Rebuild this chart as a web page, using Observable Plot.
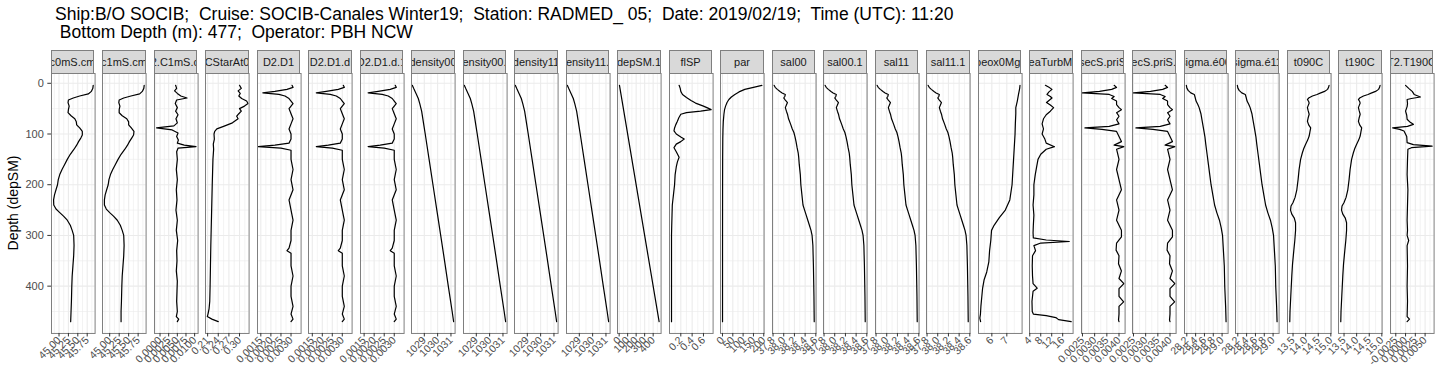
<!DOCTYPE html>
<html><head><meta charset="utf-8">
<script src="https://cdn.jsdelivr.net/npm/d3@7"></script>
<script src="https://cdn.jsdelivr.net/npm/@observablehq/plot@0.6"></script>
<style>
body{margin:0;background:#fff;}
#root{position:relative;width:1440px;height:384px;overflow:hidden;background:#fff;font-family:"Liberation Sans",Arial,Helvetica,sans-serif;}
.title{position:absolute;left:55px;font-size:17.5px;color:#000;white-space:pre;line-height:18px;}
.strip{position:absolute;top:50px;height:24px;box-sizing:border-box;border:1px solid #7f7f7f;background:#d9d9d9;display:flex;justify-content:center;align-items:center;overflow:hidden;font-size:11px;color:#1a1a1a;white-space:nowrap;}
.panel{position:absolute;top:73px;}
.ylab{position:absolute;left:13px;top:203px;font-size:14px;color:#000;white-space:nowrap;transform:translate(-50%,-50%) rotate(-90deg);}
</style></head>
<body><div id="root">
<div class="title" style="top:5px">Ship:B/O SOCIB;  Cruise: SOCIB-Canales Winter19;  Station: RADMED_ 05;  Date: 2019/02/19;  Time (UTC): 11:20</div>
<div class="title" style="top:23px"> Bottom Depth (m): 477;  Operator: PBH NCW</div>
<div class="ylab">Depth (depSM)</div>
</div>
<script>
// ---- data: [depth, value] pairs read from the profiles ----
const c0mS = [[4,45.91],[10,45.90],[16,45.86],[21,45.78],[25,45.55],[29,45.38],[33,45.25],[38,45.24],[45,45.27],[52,45.25],[58,45.24],[64,45.32],[70,45.42],[76,45.46],[82,45.47],[88,45.55],[95,45.62],[102,45.62],[108,45.58],[115,45.52],[122,45.47],[130,45.40],[140,45.30],[150,45.22],[160,45.15],[170,45.08],[180,45.02],[190,44.98],[200,44.96],[210,44.92],[220,44.88],[230,44.855],[240,44.86],[248,44.92],[255,45.02],[262,45.12],[270,45.22],[280,45.30],[290,45.35],[300,45.39],[320,45.40],[340,45.39],[360,45.37],[380,45.35],[400,45.34],[430,45.33],[450,45.32],[470,45.31]];
const c1mS = [[4,45.91],[10,45.90],[16,45.86],[21,45.79],[25,45.56],[29,45.37],[33,45.25],[38,45.24],[45,45.27],[52,45.25],[58,45.25],[64,45.33],[70,45.45],[76,45.50],[82,45.50],[88,45.57],[95,45.64],[102,45.63],[108,45.58],[115,45.52],[122,45.47],[130,45.40],[140,45.30],[150,45.22],[160,45.15],[170,45.08],[180,45.02],[190,44.98],[200,44.96],[210,44.92],[220,44.88],[230,44.86],[240,44.86],[248,44.91],[255,45.00],[262,45.10],[270,45.20],[280,45.28],[290,45.33],[300,45.37],[320,45.38],[340,45.37],[360,45.35],[380,45.33],[400,45.32],[430,45.31],[450,45.30],[470,45.30]];
const c2c1 = [[4,0.0045],[10,0.0048],[15,0.0042],[20,0.0050],[25,0.0060],[29,0.0078],[33,0.0048],[40,0.0044],[48,0.0050],[55,0.0045],[62,0.0052],[70,0.0046],[78,0.0050],[84,0.0040],[88,-0.0010],[92,0.0035],[98,0.0052],[105,0.0048],[112,0.0053],[118,0.0050],[122,0.0070],[125,0.0104],[128,0.0052],[135,0.0048],[150,0.0050],[170,0.0047],[190,0.0050],[210,0.0047],[230,0.0049],[250,0.0046],[270,0.0050],[290,0.0047],[310,0.0051],[330,0.0048],[350,0.0049],[370,0.0047],[390,0.0050],[410,0.0049],[430,0.0048],[450,0.0050],[460,0.0047],[465,0.0054],[470,0.0050]];
const cstar = [[4,0.300],[10,0.305],[15,0.296],[20,0.302],[25,0.298],[30,0.306],[35,0.320],[40,0.324],[45,0.314],[50,0.300],[55,0.305],[60,0.298],[65,0.292],[70,0.296],[78,0.280],[85,0.255],[90,0.236],[95,0.230],[100,0.228],[110,0.229],[120,0.226],[130,0.227],[150,0.225],[175,0.224],[200,0.223],[230,0.222],[260,0.221],[290,0.220],[320,0.219],[360,0.218],[400,0.217],[430,0.216],[445,0.214],[455,0.211],[460,0.209],[465,0.222],[470,0.240]];
const d2d1 = [[4,0.00305],[8,0.0031],[12,0.0028],[16,0.0022],[19,0.0016],[22,0.0024],[25,0.0027],[30,0.0029],[35,0.0030],[40,0.0031],[50,0.0029],[60,0.0030],[70,0.0031],[80,0.0030],[90,0.0029],[100,0.0030],[110,0.0030],[118,0.0029],[122,0.0022],[125,0.00137],[128,0.0025],[132,0.0030],[150,0.0030],[170,0.0031],[190,0.0030],[210,0.0031],[230,0.0029],[250,0.0030],[270,0.0031],[290,0.0030],[310,0.0030],[325,0.0029],[330,0.0028],[335,0.0030],[360,0.0030],[380,0.0031],[400,0.0030],[420,0.0030],[440,0.0031],[455,0.0030],[465,0.0031],[470,0.0030]];
const d2d1d = [[4,0.00305],[8,0.0031],[12,0.0028],[16,0.0022],[19,0.0017],[22,0.0024],[25,0.0027],[30,0.0029],[35,0.0030],[40,0.0031],[50,0.0029],[60,0.0030],[70,0.0031],[80,0.0030],[90,0.0029],[100,0.0030],[110,0.0030],[118,0.0029],[122,0.0023],[125,0.0017],[128,0.0025],[132,0.0030],[150,0.0030],[170,0.0031],[190,0.0030],[210,0.0031],[230,0.0029],[250,0.0030],[270,0.0031],[290,0.0030],[310,0.0030],[325,0.0029],[330,0.0028],[335,0.0030],[360,0.0030],[380,0.0031],[400,0.0030],[420,0.0030],[440,0.0031],[455,0.0030],[465,0.0031],[470,0.0030]];
const density00 = [[4,1028.10],[10,1028.20],[20,1028.38],[30,1028.55],[40,1028.66],[55,1028.80],[80,1028.95],[100,1029.07],[150,1029.36],[200,1029.65],[250,1029.94],[300,1030.23],[350,1030.52],[400,1030.80],[450,1031.09],[470,1031.20]];
const density11 = [[4,1028.10],[10,1028.20],[20,1028.38],[30,1028.55],[40,1028.66],[55,1028.80],[80,1028.95],[100,1029.07],[150,1029.36],[200,1029.65],[250,1029.94],[300,1030.23],[350,1030.52],[400,1030.80],[450,1031.09],[470,1031.20]];
const depSM = [[4,4],[470,470]];
const flSP = [[4,0.17],[10,0.19],[16,0.20],[22,0.23],[28,0.30],[34,0.38],[39,0.46],[45,0.60],[49,0.68],[52,0.735],[55,0.55],[58,0.30],[61,0.20],[68,0.165],[75,0.14],[82,0.11],[88,0.09],[94,0.08],[100,0.12],[106,0.20],[110,0.26],[115,0.20],[120,0.12],[127,0.08],[135,0.12],[146,0.17],[155,0.14],[165,0.12],[180,0.10],[200,0.09],[220,0.07],[240,0.05],[260,0.045],[280,0.04],[300,0.036],[350,0.036],[400,0.036],[470,0.036]];
const par = [[4,191],[8,150],[12,108],[17,80],[22,60],[27,43],[32,31],[38,22],[45,15],[52,10],[61,7],[75,4],[90,2.5],[110,1.5],[150,0.8],[200,0.5],[300,0.3],[470,0.2]];
const sal00 = [[4,37.82],[8,37.84],[12,37.88],[16,37.93],[19,37.97],[22,38.03],[26,38.02],[29,38.00],[33,38.03],[38,38.07],[43,38.05],[48,38.03],[55,38.05],[61,38.07],[70,38.09],[81,38.13],[90,38.16],[97,38.19],[105,38.21],[115,38.23],[127,38.25],[137,38.27],[146,38.28],[160,38.29],[180,38.31],[200,38.32],[220,38.34],[240,38.36],[250,38.39],[260,38.42],[270,38.45],[280,38.48],[290,38.51],[300,38.53],[320,38.545],[360,38.555],[420,38.565],[470,38.57]];
const sal11 = [[4,37.82],[8,37.84],[12,37.88],[16,37.93],[19,37.97],[22,38.03],[26,38.02],[29,38.00],[33,38.03],[38,38.07],[43,38.05],[48,38.03],[55,38.05],[61,38.07],[70,38.09],[81,38.13],[90,38.16],[97,38.19],[105,38.21],[115,38.23],[127,38.25],[137,38.27],[146,38.28],[160,38.29],[180,38.31],[200,38.32],[220,38.34],[240,38.36],[250,38.39],[260,38.42],[270,38.45],[280,38.48],[290,38.51],[300,38.53],[320,38.545],[360,38.555],[420,38.565],[470,38.57]];
const sbeox = [[4,7.88],[10,7.86],[22,7.78],[35,7.7],[48,7.6],[60,7.6],[80,7.57],[100,7.55],[150,7.45],[200,7.35],[230,7.2],[250,6.9],[265,6.5],[280,6.15],[290,5.98],[310,5.93],[330,5.85],[352,5.8],[372,5.66],[388,5.48],[405,5.38],[421,5.33],[440,5.27],[455,5.24],[463,5.2],[470,5.25]];
const turb = [[4,9.7],[8,11],[12,12.1],[17,11.0],[22,10.3],[26,11.5],[29,12.1],[34,11],[38,10.1],[43,11.5],[48,12.7],[55,11.5],[62,10],[70,9],[80,8.5],[90,9],[100,8.5],[110,9.5],[118,10],[125,13],[130,10],[140,8],[150,7],[165,6.5],[180,6],[200,5.5],[220,5.5],[240,5.2],[260,5.5],[280,5.3],[295,5.2],[305,5.3],[309,10],[312,18.4],[315,8],[320,5.5],[330,6.1],[340,5.0],[360,4.9],[380,5.0],[395,5.2],[404,6.7],[410,5.2],[430,4.8],[450,4.9],[455,5.3],[458,10],[462,13.5],[466,14.5],[470,19.1]];
const secS = [[4,0.0038],[8,0.0039],[12,0.0037],[16,0.0032],[19,0.0025],[22,0.0036],[26,0.0038],[30,0.0037],[35,0.0039],[42,0.0039],[48,0.0040],[52,0.0041],[58,0.0039],[65,0.0040],[72,0.0039],[80,0.0040],[85,0.0036],[88,0.0026],[91,0.0033],[95,0.0039],[105,0.0040],[115,0.0041],[122,0.0038],[125,0.0042],[130,0.0039],[150,0.0040],[170,0.0039],[190,0.0040],[210,0.0041],[230,0.0039],[250,0.0040],[270,0.0039],[290,0.0041],[303,0.0041],[315,0.0039],[329,0.00388],[340,0.0040],[356,0.00398],[370,0.0041],[385,0.0040],[395,0.0042],[405,0.0040],[420,0.0040],[431,0.00419],[440,0.0040],[455,0.0040],[467,0.00398],[470,0.0040]];
const sigma00 = [[4,28.19],[9,28.20],[14,28.23],[19,28.29],[22,28.37],[28,28.39],[35,28.41],[42,28.45],[48,28.48],[60,28.52],[75,28.55],[90,28.58],[105,28.61],[120,28.63],[140,28.66],[160,28.69],[180,28.72],[200,28.75],[220,28.79],[240,28.83],[255,28.88],[270,28.94],[285,28.98],[300,29.01],[330,29.03],[360,29.05],[400,29.06],[440,29.08],[470,29.09]];
const sigma11 = [[4,28.19],[9,28.20],[14,28.23],[19,28.29],[22,28.37],[28,28.39],[35,28.41],[42,28.45],[48,28.48],[60,28.52],[75,28.55],[90,28.58],[105,28.61],[120,28.63],[140,28.66],[160,28.69],[180,28.72],[200,28.75],[220,28.79],[240,28.83],[255,28.88],[270,28.94],[285,28.98],[300,29.01],[330,29.03],[360,29.05],[400,29.06],[440,29.08],[470,29.09]];
const t090 = [[4,14.93],[8,14.91],[12,14.87],[16,14.75],[19,14.6],[22,14.45],[25,14.27],[29,14.12],[32,14.07],[36,14.12],[39,14.14],[44,14.1],[48,14.07],[54,14.1],[61,14.14],[68,14.1],[75,14.07],[82,14.12],[88,14.2],[96,14.17],[104,14.14],[112,14.08],[120,14.0],[128,13.93],[137,13.87],[150,13.8],[170,13.74],[190,13.7],[210,13.65],[225,13.58],[235,13.5],[242,13.42],[250,13.40],[258,13.45],[266,13.55],[275,13.6],[290,13.6],[310,13.57],[330,13.53],[356,13.48],[380,13.45],[420,13.41],[450,13.38],[470,13.37]];
const t190 = [[4,14.93],[8,14.91],[12,14.87],[16,14.75],[19,14.6],[22,14.45],[25,14.27],[29,14.12],[32,14.07],[36,14.12],[39,14.14],[44,14.1],[48,14.07],[54,14.1],[61,14.14],[68,14.1],[75,14.07],[82,14.12],[88,14.2],[96,14.17],[104,14.14],[112,14.08],[120,14.0],[128,13.93],[137,13.87],[150,13.8],[170,13.74],[190,13.7],[210,13.65],[225,13.58],[235,13.5],[242,13.42],[250,13.40],[258,13.45],[266,13.55],[275,13.6],[290,13.6],[310,13.57],[330,13.53],[356,13.48],[380,13.45],[420,13.41],[450,13.38],[470,13.37]];
const t2t1 = [[4,0.0000],[10,0.0008],[16,0.0017],[22,0.0022],[27,0.0038],[30,0.0015],[32,0.0004],[40,0.0005],[46,0.0004],[55,0.0000],[63,0.0003],[71,0.0004],[77,0.0012],[81,0.0020],[85,0.0005],[88,-0.0033],[91,-0.0015],[94,-0.0004],[105,0.0003],[117,0.0004],[121,0.0020],[124,0.0068],[127,0.0015],[130,0.0006],[150,0.0005],[180,0.0004],[210,0.0006],[240,0.0005],[270,0.0004],[290,0.0005],[300,0.0004],[310,0.0008],[320,0.0004],[360,0.0005],[400,0.0004],[430,0.0005],[460,0.0004],[465,0.0010],[470,0.0004]];

const stripNames = ["c0mS.cm","c1mS.cm","C2.C1mS.cm","CStarAt0","D2.D1","D2.D1.d","D2.D1.d.1","density00","density00.1","density11","density11.1","depSM.1","flSP","par","sal00","sal00.1","sal11","sal11.1","sbeox0Mg.L","seaTurbMtr","secS.priS","secS.priS.1","sigma.é00","sigma.é11","t090C","t190C","T2.T190C"];
const series = [c0mS,c1mS,c2c1,cstar,d2d1,d2d1d,d2d1d,density00,density00,density11,density11,depSM,flSP,par,sal00,sal00,sal11,sal11,sbeox,turb,secS,secS,sigma00,sigma11,t090,t190,t2t1];
const xDomains = [[44.80,45.96],[44.81,45.96],[-0.0016,0.0110],[0.204,0.327],[0.001335,0.0035],[0.00131,0.00349],[0.00132,0.00349],[1028.04,1031.31],[1028.04,1031.31],[1028.04,1031.31],[1028.04,1031.31],[-19.3,493.3],[0.0005,0.77],[-9.6,201.6],[37.79,38.605],[37.79,38.605],[37.79,38.605],[37.79,38.605],[5.11,8.02],[3.9,19.8],[0.00246,0.00425],[0.00246,0.00425],[28.148,29.136],[28.148,29.136],[13.28,15.01],[13.28,15.01],[-0.00385,0.0073]];
const xTicks = [[45,45.25,45.5,45.75],[45,45.25,45.5,45.75],[0,0.0025,0.005,0.0075,0.01],[0.21,0.24,0.27,0.30],[0.0015,0.002,0.0025,0.003],[0.0015,0.002,0.0025,0.003],[0.0015,0.002,0.0025,0.003],[1029,1030,1031],[1029,1030,1031],[1029,1030,1031],[1029,1030,1031],[0,100,200,300,400],[0.2,0.4,0.6],[0,50,100,150,200],[37.8,38.0,38.2,38.4,38.6],[37.8,38.0,38.2,38.4,38.6],[37.8,38.0,38.2,38.4,38.6],[37.8,38.0,38.2,38.4,38.6],[6,7],[4,8,12,16],[0.0025,0.003,0.0035,0.004],[0.0025,0.003,0.0035,0.004],[28.2,28.4,28.6,28.8,29.0],[28.2,28.4,28.6,28.8,29.0],[13.5,14.0,14.5,15.0],[13.5,14.0,14.5,15.0],[-0.0025,0,0.0025,0.005]];
const xDecimals = [2,2,4,2,4,4,4,0,0,0,0,0,1,0,1,1,1,1,0,0,4,4,1,1,1,1,4];
const yDomain = [-19.3, 493.3];
const yTicks = [0,100,200,300,400];

// ---- layout ----
const root = document.getElementById("root");
const X0 = 50.7, STEP = 51.5, PW = 43.6, PH = 260, MB = 51;

function minorOf(ticks, domain) {
  const step = ticks[1] - ticks[0];
  const out = [];
  for (let v = ticks[0] - step / 2; v <= domain[1] + 1e-12; v += step) {
    if (v >= domain[0]) out.push(v);
  }
  return out;
}
const yMinor = minorOf(yTicks, yDomain);

series.forEach((data, i) => {
  const left = X0 + STEP * i;
  const strip = document.createElement("div");
  strip.className = "strip";
  strip.style.left = left + "px";
  strip.style.width = PW + "px";
  strip.innerHTML = "<span>" + stripNames[i] + "</span>";
  root.appendChild(strip);

  const dom = xDomains[i], ticks = xTicks[i], dec = xDecimals[i];
  const fmt = v => (Math.abs(v) < 1e-12 ? 0 : v).toFixed(dec);
  const marks = [
    Plot.frame({fill: "white"}),
    Plot.gridX(minorOf(ticks, dom), {stroke: "#ebebeb", strokeOpacity: 1, strokeWidth: 0.6}),
    Plot.gridY(yMinor, {stroke: "#ebebeb", strokeOpacity: 1, strokeWidth: 0.6}),
    Plot.gridX(ticks, {stroke: "#ebebeb", strokeOpacity: 1, strokeWidth: 1.1}),
    Plot.gridY(yTicks, {stroke: "#ebebeb", strokeOpacity: 1, strokeWidth: 1.1}),
    Plot.line(data, {x: d => d[1], y: d => d[0], stroke: "black", strokeWidth: 1.2}),
    Plot.frame({stroke: "#7f7f7f", strokeWidth: 1}),
    Plot.axisX(ticks, {tickRotate: -45, tickFormat: fmt, tickSize: 3.5, tickPadding: 1.5, stroke: "#333", fill: "#4d4d4d", fontSize: 10.5, label: null})
  ];
  if (i === 0) marks.push(Plot.axisY(yTicks, {tickSize: 3.7, tickPadding: 4, stroke: "#333", fill: "#4d4d4d", fontSize: 11, label: null}));
  const svg = Plot.plot({
    width: PW, height: PH + MB,
    marginLeft: 0, marginRight: 0, marginTop: 0, marginBottom: MB,
    x: {domain: dom, axis: null},
    y: {domain: yDomain, reverse: true, axis: null},
    style: {overflow: "visible", background: "transparent", fontFamily: "Liberation Sans, Arial, sans-serif", fontSize: "11px"},
    marks
  });
  const wrap = document.createElement("div");
  wrap.className = "panel";
  wrap.style.left = left + "px";
  wrap.appendChild(svg);
  root.appendChild(wrap);
});
</script>
</body></html>
